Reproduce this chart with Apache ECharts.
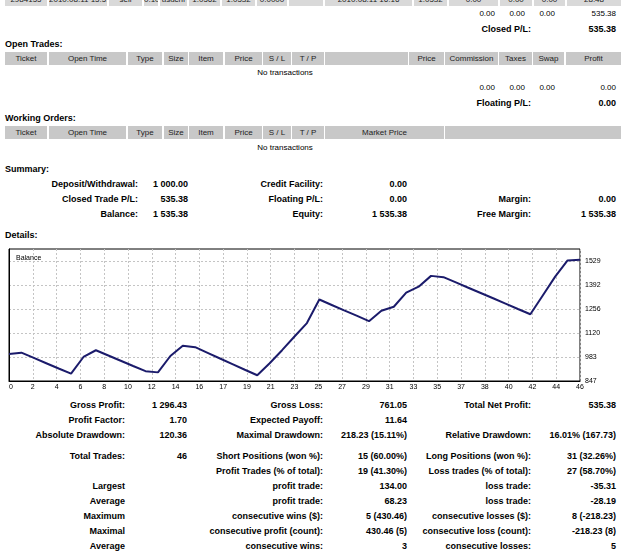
<!DOCTYPE html>
<html>
<head>
<meta charset="utf-8">
<script src="https://cdn.jsdelivr.net/npm/echarts@6/dist/echarts.min.js"></script>
<style>
body { margin: 0; background: #fff; width: 625px; height: 554px; overflow: hidden; position: relative;
       font-family: "Liberation Sans", Arial, sans-serif; color: #000; }
.t { position: absolute; white-space: nowrap; font-size: 8px; line-height: 10px; }
.b { font-weight: bold; font-size: 9px; }
.cell { position: absolute; background: #c8c8c8; height: 13px; font-size: 8px; line-height: 13px;
        text-align: center; overflow: hidden; white-space: nowrap; color: #222; }
#strip { position: absolute; left: 0; top: 0; width: 625px; height: 6px; overflow: hidden; }
#strip .cell { background: #d9d9d9; top: -7px; }
#chart { position: absolute; left: 0; top: 240px; width: 625px; height: 160px; }
</style>
</head>
<body>
<div id="strip"></div>
<div id="chart"></div>
<script>
// balance after each trade, 0..46
var balance = [1000, 1008, 978, 948, 918, 889, 983.5, 1021.7, 992, 962, 932, 903, 896, 989, 1047.4,
    1039, 1007, 975, 943, 911, 879.64, 948, 1022, 1100, 1176.1, 1310.1, 1279, 1248, 1218, 1187,
    1246, 1269, 1349, 1383, 1444.3, 1437, 1407, 1377, 1347, 1317, 1287, 1256, 1226.07, 1333, 1440,
    1532, 1535.38];
var xTickLabels = ['0', '2', '4', '6', '8', '10', '12', '14', '16', '17', '19', '21', '23', '25', '27',
    '29', '31', '33', '35', '37', '38', '40', '42', '44', '46'];
var yTickLabels = [847, 983, 1120, 1256, 1392, 1529];

var lastTrade = ['2984155', '2010.08.11 15:51', 'sell', '0.10', 'usdchf', '1.0562', '1.0532', '0.0000', '',
    '2010.08.11 16:16', '1.0532', '0.00', '0.00', '0.00', '28.48'];
var openHead = ['Ticket', 'Open Time', 'Type', 'Size', 'Item', 'Price', 'S / L', 'T / P', '', 'Price',
    'Commission', 'Taxes', 'Swap', 'Profit'];
var workHead = ['Ticket', 'Open Time', 'Type', 'Size', 'Item', 'Price', 'S / L', 'T / P', 'Market Price', ''];

var summaryRows = [
    ['Deposit/Withdrawal:', '1 000.00', 'Credit Facility:', '0.00', '', ''],
    ['Closed Trade P/L:', '535.38', 'Floating P/L:', '0.00', 'Margin:', '0.00'],
    ['Balance:', '1 535.38', 'Equity:', '1 535.38', 'Free Margin:', '1 535.38']
];
var statRows = [
    ['Gross Profit:', '1 296.43', 'Gross Loss:', '761.05', 'Total Net Profit:', '535.38'],
    ['Profit Factor:', '1.70', 'Expected Payoff:', '11.64', '', ''],
    ['Absolute Drawdown:', '120.36', 'Maximal Drawdown:', '218.23 (15.11%)', 'Relative Drawdown:', '16.01% (167.73)'],
    ['Total Trades:', '46', 'Short Positions (won %):', '15 (60.00%)', 'Long Positions (won %):', '31 (32.26%)'],
    ['', '', 'Profit Trades (% of total):', '19 (41.30%)', 'Loss trades (% of total):', '27 (58.70%)'],
    ['Largest', '', 'profit trade:', '134.00', 'loss trade:', '-35.31'],
    ['Average', '', 'profit trade:', '68.23', 'loss trade:', '-28.19'],
    ['Maximum', '', 'consecutive wins ($):', '5 (430.46)', 'consecutive losses ($):', '8 (-218.23)'],
    ['Maximal', '', 'consecutive profit (count):', '430.46 (5)', 'consecutive loss (count):', '-218.23 (8)'],
    ['Average', '', 'consecutive wins:', '3', 'consecutive losses:', '5']
];

// layout
var stripCols = [[5,42],[49,58],[109,33],[144,14],[160,27],[189,31],[222,33],[257,30],[289,34],[325,87],
    [414,33],[449,49],[500,32],[534,31],[567,54]];
var openCols = [[5,42],[49,77],[128,34],[164,24],[189,34],[225,37],[263,28],[292,32],[325,83],[409,35],
    [445,53],[499,33],[533,31],[566,55]];
var workCols = openCols.slice(0, 8).concat([[325,119],[445,176]]);
var sumRight = [138, 188, 323, 407, 531, 616];
var sumY = [184, 199, 214];
var statRight = [125, 187, 323, 407, 531, 616];
var statY = [405, 420, 435, 456, 471, 486, 501, 516, 531, 546];

function put(x, y, s, bold, align) {
    var d = document.createElement('div');
    d.className = 't' + (bold ? ' b' : '');
    d.textContent = s;
    d.style.top = (y - 5) + 'px';
    if (align == 'right') {
        d.style.right = (625 - x) + 'px';
    } else if (align == 'center') {
        d.style.left = (x - 100) + 'px';
        d.style.width = '200px';
        d.style.textAlign = 'center';
    } else {
        d.style.left = x + 'px';
    }
    document.body.appendChild(d);
}

function row(parent, cols, texts, top) {
    for (var i = 0; i < cols.length; i++) {
        var c = document.createElement('div');
        c.className = 'cell';
        c.style.left = cols[i][0] + 'px';
        c.style.width = cols[i][1] + 'px';
        if (top != null) c.style.top = top + 'px';
        c.textContent = texts[i];
        parent.appendChild(c);
    }
}

row(document.getElementById('strip'), stripCols, lastTrade, null);

put(495, 14, '0.00', false, 'right'); put(525, 14, '0.00', false, 'right'); put(555, 14, '0.00', false, 'right');
put(616, 14, '535.38', false, 'right');
put(531, 29, 'Closed P/L:', true, 'right'); put(616, 29, '535.38', true, 'right');

put(5, 44, 'Open Trades:', true);
row(document.body, openCols, openHead, 52);
put(285, 73, 'No transactions', false, 'center');
put(495, 88, '0.00', false, 'right'); put(525, 88, '0.00', false, 'right'); put(555, 88, '0.00', false, 'right');
put(616, 88, '0.00', false, 'right');
put(531, 103, 'Floating P/L:', true, 'right'); put(616, 103, '0.00', true, 'right');

put(5, 118, 'Working Orders:', true);
row(document.body, workCols, workHead, 126);
put(285, 148, 'No transactions', false, 'center');

put(5, 169, 'Summary:', true);
summaryRows.forEach(function (r, k) {
    r.forEach(function (s, j) { if (s) put(sumRight[j], sumY[k], s, true, 'right'); });
});
put(5, 235, 'Details:', true);

statRows.forEach(function (r, k) {
    r.forEach(function (s, j) { if (s) put(statRight[j], statY[k], s, true, 'right'); });
});

var chart = echarts.init(document.getElementById('chart'));
var grid = { color: '#c4c4c4', type: [2, 2], width: 1 };
chart.setOption({
    animation: false,
    grid: { left: 9, right: 45, top: 9, bottom: 19, show: true, borderColor: '#000', borderWidth: 1, backgroundColor: '#fff' },
    title: { text: 'Balance', left: 11, top: 10, textStyle: { fontSize: 7, fontWeight: 'normal', color: '#000', fontFamily: 'Liberation Sans' } },
    xAxis: {
        type: 'value', min: 0, max: balance.length - 1, interval: (balance.length - 1) / (xTickLabels.length - 1),
        axisLine: { show: true, lineStyle: { color: '#000' } },
        axisTick: { show: false },
        splitLine: { show: true, lineStyle: grid },
        axisLabel: {
            fontSize: 7, color: '#000', margin: 3, fontFamily: 'Liberation Sans',
            alignMinLabel: 'left', alignMaxLabel: 'right',
            formatter: function (v) {
                return xTickLabels[Math.round(v * (xTickLabels.length - 1) / (balance.length - 1))];
            }
        }
    },
    yAxis: {
        type: 'value', position: 'right', min: 847, max: 1597,
        axisLine: { show: true, lineStyle: { color: '#000' } },
        axisTick: { show: false, customValues: yTickLabels },
        splitLine: { show: true, lineStyle: grid },
        axisLabel: {
            customValues: yTickLabels, fontSize: 7, color: '#000', margin: 5, fontFamily: 'Liberation Sans',
            formatter: function (v) { return String(v); }
        }
    },
    series: [{
        type: 'line',
        data: balance.map(function (v, i) { return [i, v]; }),
        symbol: 'none',
        lineStyle: { color: '#1b1b6b', width: 2 }
    }]
});
</script>
</body>
</html>
